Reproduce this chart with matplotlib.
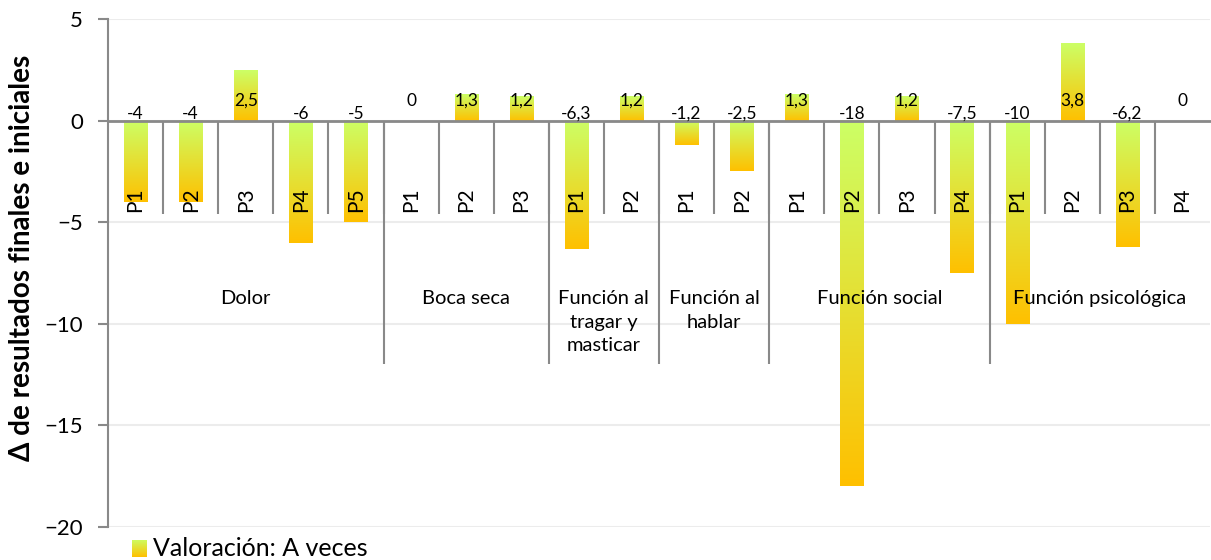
import numpy as np
import matplotlib
matplotlib.use("Agg")
import matplotlib.pyplot as plt
from matplotlib.colors import to_rgb

plt.rcParams['font.family'] = ['Lato', 'DejaVu Sans']

# ---- data ----
groups = ["Dolor", "Boca seca", "Función al\ntragar y\nmasticar", "Función al\nhablar",
          "Función social", "Función psicológica"]
group_sizes = [5, 3, 2, 2, 4, 4]
items = ["P1", "P2", "P3", "P4", "P5",
         "P1", "P2", "P3",
         "P1", "P2",
         "P1", "P2",
         "P1", "P2", "P3", "P4",
         "P1", "P2", "P3", "P4"]
values = [-4, -4, 2.5, -6, -5,
          0, 1.3, 1.2,
          -6.3, 1.2,
          -1.2, -2.5,
          1.3, -18, 1.2, -7.5,
          -10, 3.8, -6.2, 0]
series_name = "Valoración: A veces"
y_label = "Δ de resultados finales e iniciales"

top_col = np.array(to_rgb("#CCFF66"))
bot_col = np.array(to_rgb("#FFC000"))
grey = "#898989"

W, H = 1211, 560
fig = plt.figure(figsize=(W / 100, H / 100), dpi=100)
ax = fig.add_axes([108 / W, 1 - 527 / H, (1210 - 108) / W, (527 - 19) / H])

x = np.arange(len(values))
bars = ax.bar(x, values, width=0.42, color="none", zorder=2)

grad = np.linspace(0, 1, 256)[:, None, None]
grad_img = top_col[None, None, :] * (1 - grad) + bot_col[None, None, :] * grad

for b, v in zip(bars, values):
    if v == 0:
        continue
    x0 = b.get_x()
    y0, y1 = sorted([b.get_y(), b.get_y() + b.get_height()])
    ax.imshow(grad_img, extent=[x0, x0 + b.get_width(), y0, y1], origin="upper",
              aspect="auto", zorder=2, interpolation="bilinear")

ax.set_xlim(-0.5, len(values) - 0.5)
ax.set_ylim(-20, 5)

# grid
ax.set_yticks([5, 0, -5, -10, -15, -20])
ax.yaxis.grid(True, color="#ececec", lw=1.5, zorder=0)
ax.set_axisbelow(True)
ax.tick_params(axis="y", length=7, width=1.5, color=grey, labelsize=16, pad=11)
ax.tick_params(axis="x", length=0, labelbottom=False)
ax.set_xticks([])

for s in ["top", "right"]:
    ax.spines[s].set_visible(False)
ax.spines["left"].set_color(grey)
ax.spines["left"].set_linewidth(1.5)
ax.spines["bottom"].set_position(("data", 0))
ax.spines["bottom"].set_color(grey)
ax.spines["bottom"].set_linewidth(2)
ax.spines["bottom"].set_zorder(3)

# category separators
bounds = np.arange(len(values) + 1) - 0.5
ax.vlines(bounds[1:-1], -4.6, 0, color=grey, lw=1.5, zorder=1)
cum = np.cumsum([0] + group_sizes) - 0.5
ax.vlines(cum[1:-1], -12, 0, color=grey, lw=1.5, zorder=1)

# item labels
for xi, lab in zip(x, items):
    ax.text(xi, -4.5, lab, rotation=90, ha="center", va="bottom", fontsize=15, zorder=4)

# group labels
for g, a, bnd in zip(groups, cum[:-1], cum[1:]):
    ax.text((a + bnd) / 2, -8.35, g, ha="center", va="top", fontsize=14.5,
            linespacing=1.45, zorder=4)

# data labels
for xi, v in zip(x, values):
    txt = f"{v:g}".replace(".", ",")
    yy = 0.72 if v >= 0 else 0.1
    ax.text(xi, yy, txt, ha="center", va="baseline", fontsize=12.5, zorder=4)

ax.set_ylabel(y_label, fontsize=20, fontweight="bold")
ax.yaxis.set_label_coords(-0.066, 0.53)

# legend
lax = fig.add_axes([132 / W, 1 - 557 / H, 15 / W, 17 / H])
lax.imshow(grad_img, aspect="auto", origin="upper")
lax.axis("off")
fig.text(153 / W, 1 - 549 / H, series_name, fontsize=18, va="center", ha="left")

fig.savefig("out.png", dpi=100)
